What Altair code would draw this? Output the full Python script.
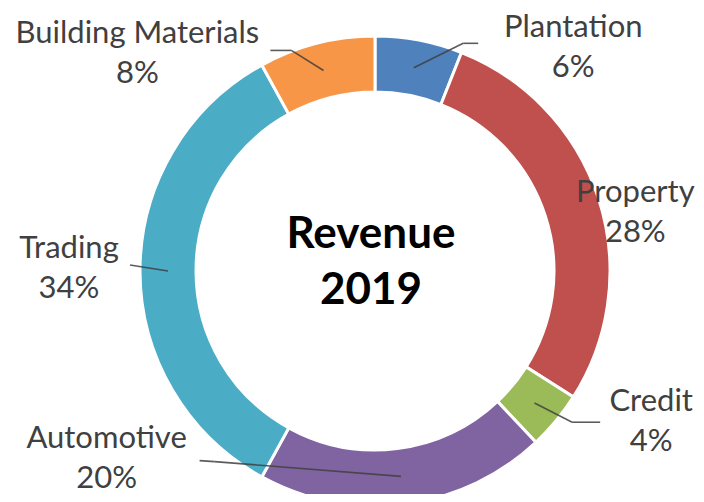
import altair as alt
import pandas as pd

# ---- data ----
categories = ["Plantation", "Property", "Credit", "Automotive", "Trading", "Building Materials"]
shares = [6, 28, 4, 20, 34, 8]          # percent of 2019 revenue
colors = ["#4F81BD", "#C0504D", "#9BBB59", "#8064A2", "#4BACC6", "#F79646"]
center_title = ["Revenue", "2019"]

# ---- layout (label nudges / leader elbows, pixels) ----
CX, CY = 367, 263            # donut centre inside the plot area
R_OUT, R_IN = 235, 179
R_MID = (R_OUT + R_IN) / 2
R_LAB = 300
label_nudge = {
    "Plantation": (142, 71), "Property": (-25, 34), "Credit": (45, -41),
    "Automotive": (-306, -111), "Trading": (-6, -3), "Building Materials": (-163, 73),
}
# (elbow dx, elbow dy, end dx, end dy) relative to the label centre; None = no leader
leader = {
    "Plantation": (-110, -4, -95, -4), "Property": None, "Credit": (-79, 1, -51, 1),
    "Automotive": (108, 4, 93, 3), "Trading": (61, -3, 61, -3),
    "Building Materials": (154, -3, 133, -3),
}

df = pd.DataFrame({"category": categories, "share": shares})
df["idx"] = range(len(df))
df["nx"] = [label_nudge[c][0] for c in categories]
df["ny"] = [label_nudge[c][1] for c in categories]
df["has_leader"] = [leader[c] is not None for c in categories]
for i, col in enumerate(["ex_", "ey_", "tx_", "ty_"]):
    df[col] = [(leader[c][i] if leader[c] else 0) for c in categories]

base = (
    alt.Chart(df)
    .transform_window(cum="sum(share)", sort=[alt.SortField("idx")])
    .transform_joinaggregate(total="sum(share)")
    .transform_calculate(mid="2*PI*(datum.cum - datum.share/2)/datum.total")
    .transform_calculate(
        sx=f"{CX} + {R_MID}*sin(datum.mid)",
        sy=f"{CY} - {R_MID}*cos(datum.mid)",
        lx=f"{CX} + {R_LAB}*sin(datum.mid) + datum.nx",
        ly=f"{CY} - {R_LAB}*cos(datum.mid) + datum.ny",
    )
    .transform_calculate(
        ex="datum.lx + datum.ex_", ey="datum.ly + datum.ey_",
        tx="datum.lx + datum.tx_", ty="datum.ly + datum.ty_",
        label="[datum.category, format(datum.share/datum.total, '.0%')]",
    )
)

arcs = alt.Chart(df).mark_arc(
    innerRadius=R_IN, outerRadius=R_OUT, stroke="white", strokeWidth=3
).encode(
    theta=alt.Theta("share:Q", stack=True),
    color=alt.Color("category:N", scale=alt.Scale(domain=categories, range=colors), legend=None),
    order=alt.Order("idx:Q"),
    x=alt.value(CX),
    y=alt.value(CY),
)

leaders = base.transform_filter("datum.has_leader")
lead1 = leaders.mark_rule(color="#404040", strokeWidth=1.6, opacity=0.85).encode(
    x=alt.X("sx:Q", scale=None, axis=None), y=alt.Y("sy:Q", scale=None, axis=None),
    x2="ex:Q", y2="ey:Q",
)
lead2 = leaders.mark_rule(color="#404040", strokeWidth=1.6, opacity=0.85).encode(
    x=alt.X("ex:Q", scale=None, axis=None), y=alt.Y("ey:Q", scale=None, axis=None),
    x2="tx:Q", y2="ty:Q",
)

labels = base.mark_text(
    font="Lato", fontSize=31, color="#404040", align="center", baseline="middle",
    lineHeight=40, dy=-19,
).encode(
    x=alt.X("lx:Q", scale=None, axis=None),
    y=alt.Y("ly:Q", scale=None, axis=None),
    text=alt.Text("label:N"),
)

title_df = pd.DataFrame({"k": [0]})
centre = alt.Chart(title_df).mark_text(
    font="Lato", fontSize=44, fontWeight="bold", color="#000000",
    align="center", baseline="middle", lineHeight=56,
).encode(x=alt.value(CX - 4), y=alt.value(CY - 36), text=alt.value(center_title))

chart = alt.layer(arcs, lead1, lead2, labels, centre).properties(
    width=688, height=486, padding=0, autosize="none"
).configure_view(stroke=None)

chart.save("out.html", embed_options={"renderer": "svg", "actions": False})
